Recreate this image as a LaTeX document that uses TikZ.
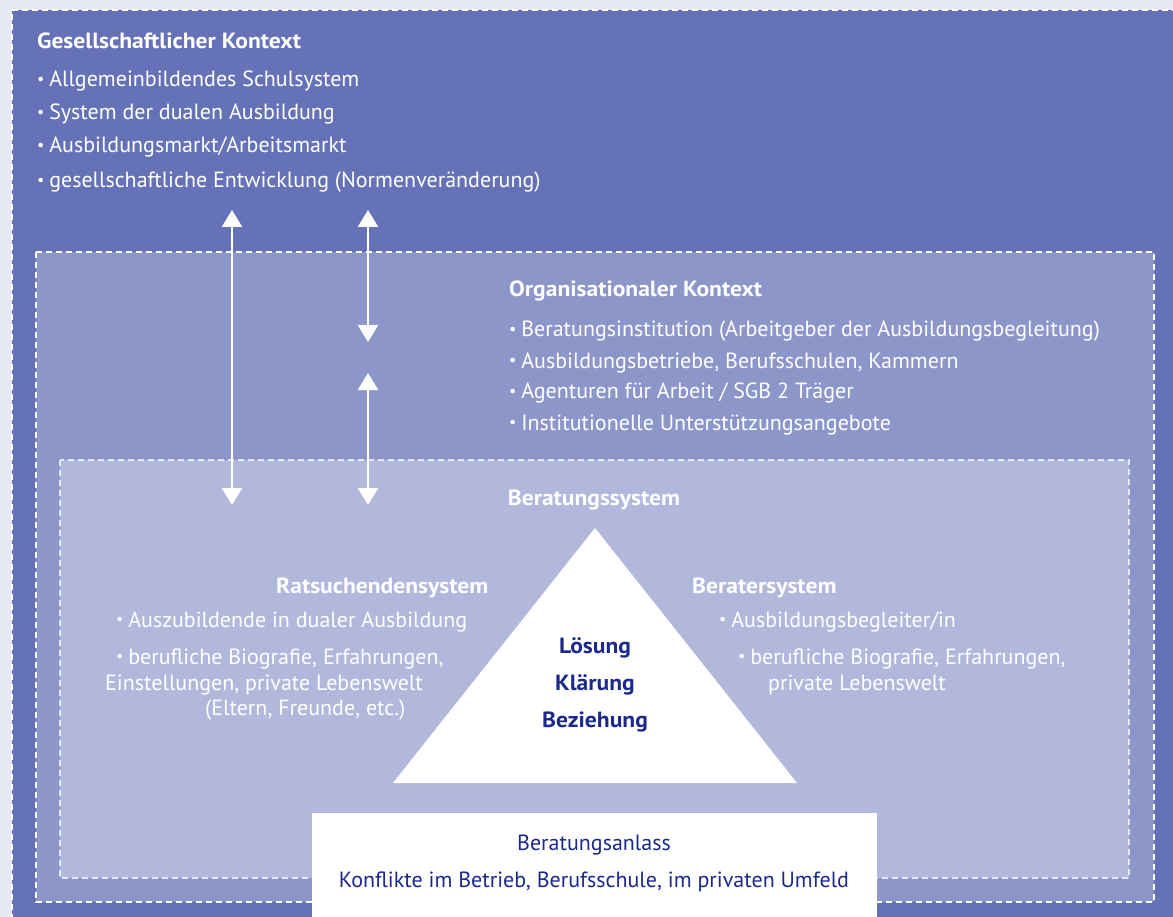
\documentclass[tikz,border=0pt]{standalone}
\usepackage{fontspec}
\setmainfont{PT Sans}[BoldFeatures={FakeStretch=1.07}]
\usetikzlibrary{arrows.meta}
\definecolor{pagebg}{HTML}{E6E8F3}
\definecolor{outerbg}{HTML}{6672B8}
\definecolor{midbg}{HTML}{8C96C9}
\definecolor{innerbg}{HTML}{B2B8DC}
\definecolor{navy}{HTML}{1B2A8A}
\newcommand\bul{\raisebox{0.1em}{\fontsize{16}{16}\selectfont •}\hspace{0.22em}}
\begin{document}
\begin{tikzpicture}[x=1pt,y=-1pt,
  boxline/.style={draw=white,dash pattern=on 6pt off 4pt,line width=1.6pt},
  txt/.style={text=white,font=\fontsize{22}{26}\selectfont,anchor=base west,inner sep=0pt},
  hd/.style={txt,font=\bfseries\fontsize{22}{26}\selectfont},
  tri/.style={text=navy,font=\bfseries\fontsize{22}{26}\selectfont,anchor=base,inner sep=0pt},
  anl/.style={text=navy,font=\fontsize{22}{26}\selectfont,anchor=base,inner sep=0pt},
  dual/.style={draw=white,line width=2.4pt,{Triangle[width=20pt,length=17pt]}-{Triangle[width=20pt,length=17pt]}}]
\useasboundingbox (0,0) rectangle (1173,917);
\clip (0,0) rectangle (1173,917);
\fill[pagebg] (0,0) rectangle (1173,917);
% outer box
\fill[outerbg] (12,10) rectangle (1185,930);
\draw[boxline] (12,930) -- (12,10) -- (1185,10);
% middle box
\fill[midbg] (36,252) rectangle (1154,902);
\draw[boxline] (36,252) rectangle (1154,902);
% inner box
\fill[innerbg] (60,460) rectangle (1129,878);
\draw[boxline,draw opacity=0.75] (60,460) rectangle (1129,878);
% Beratungsanlass box
\fill[white] (312,813) rectangle (877,920);
% triangle
\coordinate (tA) at (595,528);
\coordinate (tL) at (393,783);
\coordinate (tR) at (797,783);
\fill[white] (tA) -- (tL) -- (tR) -- cycle;
% arrows
\coordinate (a1t) at (232,210);
\coordinate (a1b) at (232,505);
\coordinate (a2t) at (368,210);
\coordinate (a2b) at (368,342);
\coordinate (a3t) at (368,373);
\coordinate (a3b) at (368,505);
\draw[dual] (a1t) -- (a1b);
\draw[dual] (a2t) -- (a2b);
\draw[dual] (a3t) -- (a3b);
% Gesellschaftlicher Kontext
\node[hd] (g0) at (37,49) {Gesellschaftlicher Kontext};
\node[txt] (g1) at (37,87) {\bul Allgemeinbildendes Schulsystem};
\node[txt] (g2) at (37,120) {\bul System der dualen Ausbildung};
\node[txt] (g3) at (37,153) {\bul Ausbildungsmarkt/Arbeitsmarkt};
\node[txt] (g4) at (37,188) {\bul gesellschaftliche Entwicklung (Normenveränderung)};
% Organisationaler Kontext
\node[hd] (o0) at (509,297) {Organisationaler Kontext};
\node[txt] (o1) at (509,337) {\bul Beratungsinstitution (Arbeitgeber der Ausbildungsbegleitung)};
\node[txt] (o2) at (509,368) {\bul Ausbildungsbetriebe, Berufsschulen, Kammern};
\node[txt] (o3) at (509,399) {\bul Agenturen für Arbeit / SGB 2 Träger};
\node[txt] (o4) at (509,430) {\bul Institutionelle Unterstützungsangebote};
% Beratungssystem
\node[hd,anchor=base] (b0) at (594,505) {Beratungssystem};
\node[hd] (r0) at (276,593) {Ratsuchendensystem};
\node[txt] (r1) at (116,627) {\bul Auszubildende in dualer Ausbildung};
\node[txt] (r2) at (116,664) {\bul berufliche Biografie, Erfahrungen,};
\node[txt] (r3) at (105,690) {Einstellungen, private Lebenswelt};
\node[txt] (r4) at (205,715) {(Eltern, Freunde, etc.)};
\node[hd] (s0) at (692,593) {Beratersystem};
\node[txt] (s1) at (719,627) {\bul Ausbildungsbegleiter/in};
\node[txt] (s2) at (738,664) {\bul berufliche Biografie, Erfahrungen,};
\node[txt] (s3) at (768,690) {private Lebenswelt};
% triangle texts
\node[tri] (t1) at (595,653) {Lösung};
\node[tri] (t2) at (595,690) {Klärung};
\node[tri] (t3) at (595,727) {Beziehung};
% Beratungsanlass
\node[anl] (n1) at (594,850) {Beratungsanlass};
\node[anl] (n2) at (594,887) {Konflikte im Betrieb, Berufsschule, im privaten Umfeld};
\end{tikzpicture}
\end{document}
